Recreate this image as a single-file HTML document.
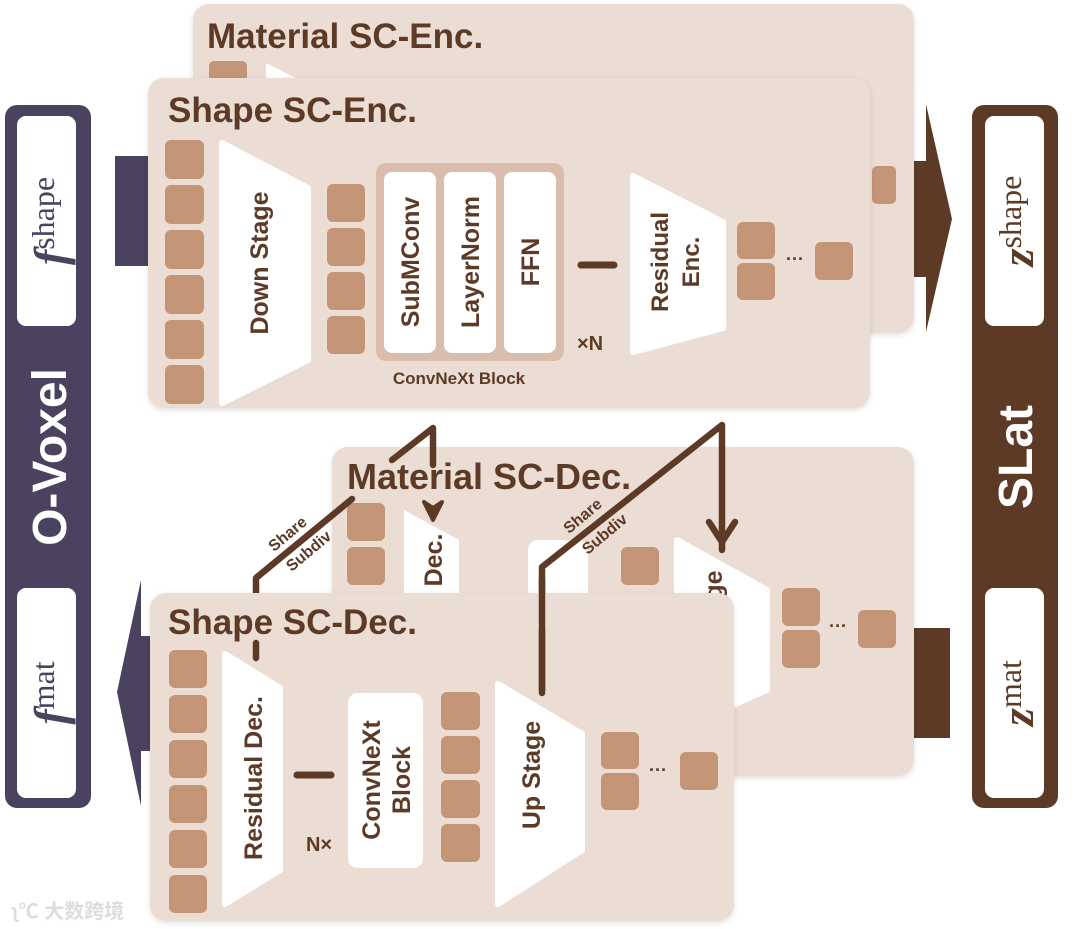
<!DOCTYPE html>
<html><head><meta charset="utf-8"><style>
html,body{margin:0;padding:0;background:#fff}
svg{display:block}
text{font-family:"Liberation Sans",sans-serif;font-weight:bold}
</style></head><body>
<svg width="1080" height="929" viewBox="0 0 1080 929" xmlns="http://www.w3.org/2000/svg">
<defs>
<filter id="sh" x="-5%" y="-5%" width="110%" height="110%"><feDropShadow dx="0" dy="2" stdDeviation="3" flood-color="#000" flood-opacity="0.12"/></filter>
</defs>
<!-- Side bars -->
<rect x="5" y="105" width="86" height="703" rx="12" fill="#4b4260"/>
<rect x="17" y="116" width="59" height="210" rx="9" fill="#fff"/>
<rect x="17" y="588" width="59" height="210" rx="9" fill="#fff"/>
<text transform="translate(66,221) rotate(-90)" text-anchor="middle" font-size="32" fill="#4b4260" style="font-family:'Liberation Serif';font-weight:normal"><tspan font-weight="bold" font-style="italic" font-size="46">f</tspan><tspan dy="-12">shape</tspan></text>
<text transform="translate(66,693) rotate(-90)" text-anchor="middle" font-size="32" fill="#4b4260" style="font-family:'Liberation Serif';font-weight:normal"><tspan font-weight="bold" font-style="italic" font-size="46">f</tspan><tspan dy="-12">mat</tspan></text>
<text transform="translate(66,457) rotate(-90)" text-anchor="middle" font-size="48" fill="#fff">O-Voxel</text>

<rect x="972" y="105" width="86" height="703" rx="12" fill="#5c3a26"/>
<rect x="985" y="116" width="59" height="210" rx="9" fill="#fff"/>
<rect x="985" y="588" width="59" height="210" rx="9" fill="#fff"/>
<text transform="translate(1033,221) rotate(-90)" text-anchor="middle" font-size="32" fill="#5c3a26" style="font-family:'Liberation Serif';font-weight:normal"><tspan font-weight="bold" font-style="italic" font-size="46">z</tspan><tspan dy="-12">shape</tspan></text>
<text transform="translate(1033,693) rotate(-90)" text-anchor="middle" font-size="32" fill="#5c3a26" style="font-family:'Liberation Serif';font-weight:normal"><tspan font-weight="bold" font-style="italic" font-size="46">z</tspan><tspan dy="-12">mat</tspan></text>
<text transform="translate(1032,457) rotate(-90)" text-anchor="middle" font-size="48" fill="#fff">SLat</text>

<!-- arrows -->
<rect x="115" y="156" width="36" height="110" fill="#4b4260"/>
<rect x="905" y="161" width="24" height="116" fill="#5c3a26"/>
<polygon points="926,104 952,219 926,332" fill="#5c3a26"/>
<rect x="905" y="628" width="45" height="110" fill="#5c3a26"/>
<rect x="138" y="636" width="16" height="115" fill="#4b4260"/>
<polygon points="141,580 117,692 141,806" fill="#4b4260"/>

<!-- Material SC-Enc -->
<rect x="193" y="4" width="721" height="329" rx="16" fill="#ecddd4" filter="url(#sh)"/>
<text x="207" y="48" font-size="35" fill="#5c3a26">Material SC-Enc.</text>
<rect x="209" y="61" width="38" height="30" rx="5" fill="#c49477"/>
<polygon points="266,63 300,80 266,80" fill="#fff"/>
<rect x="872" y="166" width="24" height="38" rx="5" fill="#c49477"/>

<!-- Shape SC-Enc -->
<rect x="148" y="78" width="722" height="330" rx="16" fill="#ecddd4" filter="url(#sh)"/>
<text x="168" y="122" font-size="35" fill="#5c3a26">Shape SC-Enc.</text>
<g fill="#c49477">
<rect x="165" y="140" width="39" height="39" rx="6"/><rect x="165" y="185" width="39" height="39" rx="6"/>
<rect x="165" y="230" width="39" height="39" rx="6"/><rect x="165" y="275" width="39" height="39" rx="6"/>
<rect x="165" y="320" width="39" height="39" rx="6"/><rect x="165" y="365" width="39" height="39" rx="6"/>
<rect x="327" y="184" width="38" height="38" rx="6"/><rect x="327" y="228" width="38" height="38" rx="6"/>
<rect x="327" y="272" width="38" height="38" rx="6"/><rect x="327" y="316" width="38" height="38" rx="6"/>
<rect x="737" y="222" width="38" height="37" rx="6"/><rect x="737" y="263" width="38" height="37" rx="6"/>
<rect x="815" y="242" width="38" height="38" rx="6"/>
</g>
<text x="795" y="265" font-size="18" fill="#5c3a26" text-anchor="middle">···</text>
<polygon points="222,143 308,188 308,360 222,403" fill="#fff" stroke="#fff" stroke-width="6" stroke-linejoin="round"/>
<text transform="translate(268,263) rotate(-90)" text-anchor="middle" font-size="25" fill="#5c3a26">Down Stage</text>
<rect x="376" y="163" width="188" height="198" rx="10" fill="#d9bcab"/>
<rect x="384" y="172" width="52" height="181" rx="8" fill="#fff"/>
<rect x="444" y="172" width="52" height="181" rx="8" fill="#fff"/>
<rect x="504" y="172" width="52" height="181" rx="8" fill="#fff"/>
<text transform="translate(419,262) rotate(-90)" text-anchor="middle" font-size="25" fill="#5c3a26">SubMConv</text>
<text transform="translate(479,262) rotate(-90)" text-anchor="middle" font-size="25" fill="#5c3a26">LayerNorm</text>
<text transform="translate(539,262) rotate(-90)" text-anchor="middle" font-size="25" fill="#5c3a26">FFN</text>
<text x="459" y="384" text-anchor="middle" font-size="17" fill="#5c3a26">ConvNeXt Block</text>
<text x="590" y="350" text-anchor="middle" font-size="20" fill="#5c3a26">×N</text>
<line x1="581" y1="265" x2="614" y2="265" stroke="#5c3a26" stroke-width="7" stroke-linecap="round"/>
<polygon points="633,176 723,222 723,328 633,352" fill="#fff" stroke="#fff" stroke-width="6" stroke-linejoin="round"/>
<text transform="translate(668,262) rotate(-90)" text-anchor="middle" font-size="24" fill="#5c3a26">Residual</text>
<text transform="translate(699,262) rotate(-90)" text-anchor="middle" font-size="24" fill="#5c3a26">Enc.</text>

<!-- Material SC-Dec -->
<rect x="332" y="447" width="582" height="329" rx="16" fill="#ecddd4" filter="url(#sh)"/>
<g fill="#c49477">
<rect x="347" y="503" width="38" height="38" rx="6"/><rect x="347" y="547" width="38" height="38" rx="6"/>
<rect x="621" y="547" width="38" height="38" rx="6"/>
<rect x="782" y="588" width="38" height="38" rx="6"/><rect x="782" y="630" width="38" height="38" rx="6"/>
<rect x="858" y="610" width="38" height="38" rx="6"/>
</g>
<text x="838" y="632" font-size="18" fill="#5c3a26" text-anchor="middle">···</text>
<polygon points="404,510 459,540 459,600 404,600" fill="#fff"/>
<text transform="translate(442,560) rotate(-90)" text-anchor="middle" font-size="25" fill="#5c3a26">Dec.</text>
<rect x="528" y="540" width="60" height="70" rx="10" fill="#fff"/>
<polygon points="677,540 767,590 767,690 677,730" fill="#fff" stroke="#fff" stroke-width="6" stroke-linejoin="round"/>
<text transform="translate(722,585) rotate(-90)" text-anchor="middle" font-size="25" fill="#5c3a26">ge</text>
<text x="347" y="489" font-size="36" fill="#5c3a26">Material SC-Dec.</text>

<!-- connectors behind shape dec -->
<g fill="none" stroke="#5c3a26" stroke-width="6.5" stroke-linecap="round" stroke-linejoin="round">
<polyline points="392,460 433,428 433,465"/>
<polyline points="352,499 256,578 256,612"/>
<polyline points="722,550 722,425 542,567 542,693"/>
</g>
<polygon points="424,502 433,520 442,502 433,508" fill="#5c3a26" stroke="#5c3a26" stroke-width="4" stroke-linejoin="round"/>
<polyline points="709,522 722,542 735,522" fill="none" stroke="#5c3a26" stroke-width="6.5" stroke-linecap="round" stroke-linejoin="round"/>
<text transform="translate(291,538) rotate(-40)" text-anchor="middle" font-size="16" fill="#5c3a26">Share</text>
<text transform="translate(312,555) rotate(-40)" text-anchor="middle" font-size="16" fill="#5c3a26">Subdiv</text>
<text transform="translate(586,520) rotate(-40)" text-anchor="middle" font-size="16" fill="#5c3a26">Share</text>
<text transform="translate(608,538) rotate(-40)" text-anchor="middle" font-size="16" fill="#5c3a26">Subdiv</text>

<!-- Shape SC-Dec -->
<rect x="150" y="593" width="584" height="328" rx="16" fill="#ecddd4" filter="url(#sh)"/>
<polyline points="542,580 542,693" fill="none" stroke="#5c3a26" stroke-width="6.5" stroke-linecap="round"/>
<text x="168" y="634" font-size="35" fill="#5c3a26">Shape SC-Dec.</text>
<line x1="256" y1="643" x2="256" y2="658" stroke="#5c3a26" stroke-width="6.5" stroke-linecap="round"/>
<g fill="#c49477">
<rect x="169" y="650" width="38" height="38" rx="6"/><rect x="169" y="695" width="38" height="38" rx="6"/>
<rect x="169" y="740" width="38" height="38" rx="6"/><rect x="169" y="785" width="38" height="38" rx="6"/>
<rect x="169" y="830" width="38" height="38" rx="6"/><rect x="169" y="875" width="38" height="38" rx="6"/>
<rect x="441" y="692" width="39" height="38" rx="6"/><rect x="441" y="736" width="39" height="38" rx="6"/>
<rect x="441" y="780" width="39" height="38" rx="6"/><rect x="441" y="824" width="39" height="38" rx="6"/>
<rect x="601" y="732" width="38" height="37" rx="6"/><rect x="601" y="773" width="38" height="37" rx="6"/>
<rect x="680" y="752" width="38" height="38" rx="6"/>
</g>
<text x="658" y="776" font-size="18" fill="#5c3a26" text-anchor="middle">···</text>
<polygon points="225,654 280,688 280,870 225,904" fill="#fff" stroke="#fff" stroke-width="6" stroke-linejoin="round"/>
<text transform="translate(262,778) rotate(-90)" text-anchor="middle" font-size="25" fill="#5c3a26">Residual Dec.</text>
<line x1="297" y1="775" x2="331" y2="775" stroke="#5c3a26" stroke-width="7" stroke-linecap="round"/>
<text x="319" y="851" text-anchor="middle" font-size="20" fill="#5c3a26">N×</text>
<rect x="348" y="693" width="75" height="175" rx="10" fill="#fff"/>
<text transform="translate(380,780) rotate(-90)" text-anchor="middle" font-size="25" fill="#5c3a26">ConvNeXt</text>
<text transform="translate(410,780) rotate(-90)" text-anchor="middle" font-size="25" fill="#5c3a26">Block</text>
<polygon points="498,684 582,734 582,850 498,904" fill="#fff" stroke="#fff" stroke-width="6" stroke-linejoin="round"/>
<polyline points="542,630 542,690" fill="none" stroke="#5c3a26" stroke-width="6.5" stroke-linecap="round"/>
<text transform="translate(540,775) rotate(-90)" text-anchor="middle" font-size="25" fill="#5c3a26">Up Stage</text>
<text x="12" y="918" font-size="20" fill="#ddd" style="font-family:'Liberation Sans','Noto Sans CJK SC',sans-serif">ʅ℃ 大数跨境</text>
</svg>
</body></html>
